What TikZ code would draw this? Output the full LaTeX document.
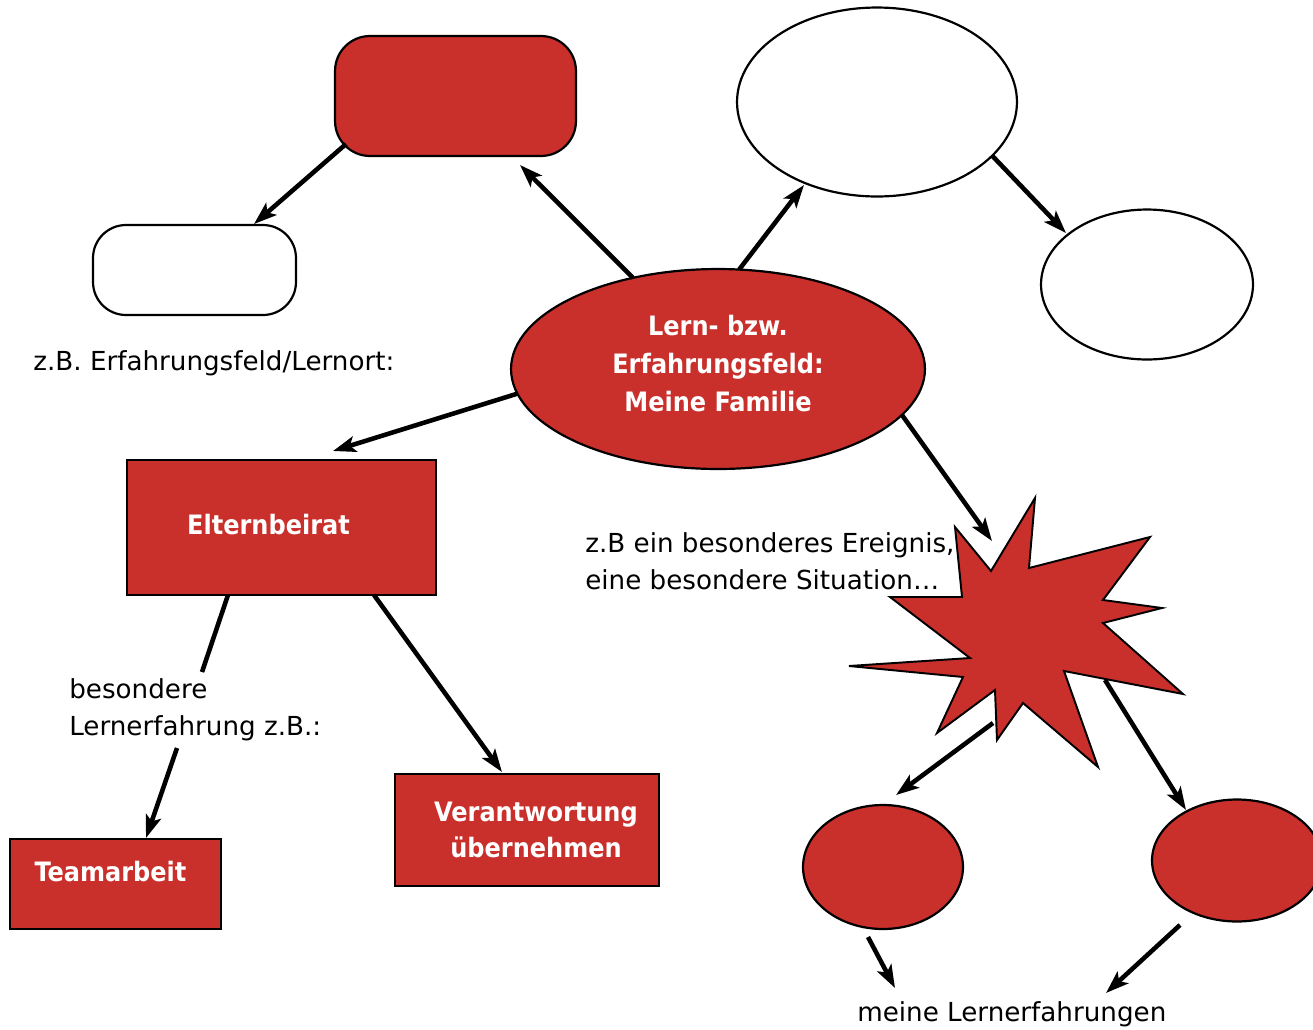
\documentclass[tikz,border=0pt]{standalone}
\usepackage{fontspec}
\setmainfont{DejaVu Sans}
\newfontfamily\cbf{DejaVu Sans Condensed Bold}
\usetikzlibrary{arrows.meta,shapes.geometric}
\definecolor{myred}{RGB}{201,48,43}
\tikzset{
  shp/.style={draw=black,line width=1.25pt,inner sep=0pt,outer sep=0pt},
  redf/.style={shp,fill=myred},
  whf/.style={shp,fill=white},
  arr/.style={line width=2.6pt,-{Stealth[length=13pt,width=9pt,inset=3pt]}},
  ln/.style={line width=2.6pt},
  txt/.style={inner sep=0pt,anchor=base west,font=\fontsize{14.9}{21}\selectfont},
  wtxt/.style={inner sep=0pt,anchor=base,text=white,font=\fontsize{15.2}{21}\cbf},
}
\begin{document}
\begin{tikzpicture}[x=0.02cm,y=-0.02cm]
\useasboundingbox[fill=white] (0,0) rectangle (1313,1029);

% shapes
\node[redf,rectangle,rounded corners=0.7cm,minimum width=4.82cm,minimum height=2.4cm] (top) at (455.5,96) {};
\node[whf,rectangle,rounded corners=0.66cm,minimum width=4.06cm,minimum height=1.8cm] (wr) at (194.5,270) {};
\node[whf,ellipse,minimum width=5.6cm,minimum height=3.78cm] (tre) at (877,102) {};
\node[whf,ellipse,minimum width=4.24cm,minimum height=3cm] (re) at (1147,284.5) {};
\node[redf,ellipse,minimum width=8.28cm,minimum height=4cm] (fam) at (718,369) {};
\node[redf,rectangle,minimum width=6.18cm,minimum height=2.7cm] (eltern) at (281.5,527.5) {};
\node[redf,rectangle,minimum width=4.22cm,minimum height=1.8cm] (team) at (115.5,884) {};
\node[redf,rectangle,minimum width=5.28cm,minimum height=2.24cm] (verant) at (527,830) {};
\node[redf,ellipse,minimum width=3.2cm,minimum height=2.48cm] (bl) at (883,867) {};
\node[redf,ellipse,minimum width=3.4cm,minimum height=2.44cm] (br) at (1237,860.5) {};

% star
\draw[redf,line width=1.1pt,line join=miter] (1035,498) -- (1029,568) -- (1150,537) -- (1103,600)
  -- (1162,608) -- (1103,623) -- (1183,694) -- (1064,671) -- (1098,767)
  -- (1023,703) -- (997,740) -- (995,690) -- (937,733) -- (963,677)
  -- (849,666) -- (970,658) -- (890,597) -- (962,597) -- (955,527)
  -- (991,571) -- cycle;
\coordinate (star) at (1020,640);

% white texts
\node[wtxt] (f1) at (718,335) {Lern- bzw.};
\node[wtxt] (f2) at (718,373) {Erfahrungsfeld:};
\node[wtxt] (f3) at (718,411) {Meine Familie};
\node[wtxt] (el) at (268.5,534) {Elternbeirat};
\node[wtxt] (tm) at (110.5,881) {Teamarbeit};
\node[wtxt] (v1) at (536,821) {Verantwortung};
\node[wtxt] (v2) at (536,857) {übernehmen};

% black texts
\node[txt] (t1) at (33,370) {z.B. Erfahrungsfeld/Lernort:};
\node[txt] (t2a) at (585,552) {z.B ein besonderes Ereignis,};
\node[txt] (t2b) at (585,589) {eine besondere Situation…};
\node[txt] (t3a) at (69,698) {besondere};
\node[txt] (t3b) at (69,735) {Lernerfahrung z.B.:};
\node[txt] (t4) at (857,1021) {meine Lernerfahrungen};

% connector end points
\coordinate (a1) at (520,165);
\coordinate (a2s) at (346,144);
\coordinate (a2) at (254,224);
\coordinate (a3) at (804,185);
\coordinate (a4) at (1066,233);
\coordinate (a5) at (333,451);
\coordinate (a6) at (992,541);
\coordinate (e1s) at (228,595);
\coordinate (e1m) at (202,672);
\coordinate (e1n) at (177,748);
\coordinate (a7) at (146,838);
\coordinate (e2s) at (374,595);
\coordinate (a8) at (502,772);
\coordinate (s1) at (993,723);
\coordinate (a9) at (896,795);
\coordinate (s2) at (1105,680);
\coordinate (a10) at (1186,810);
\coordinate (b1) at (868,937);
\coordinate (a11) at (895,988);
\coordinate (b2) at (1180,925);
\coordinate (a12) at (1106,993);

% connectors
\draw[arr] (fam.133) -- (a1);
\draw[arr] (a2s) -- (a2);
\draw[arr] (fam.78.5) -- (a3);
\draw[arr] (tre.-25.4) -- (a4);
\draw[arr] (fam.187.4) -- (a5);
\draw[arr] (fam.-14) -- (a6);
\draw[ln] (e1s) -- (e1m);
\draw[arr] (e1n) -- (a7);
\draw[arr] (e2s) -- (a8);
\draw[arr] (s1) -- (a9);
\draw[arr] (s2) -- (a10);
\draw[arr] (b1) -- (a11);
\draw[arr] (b2) -- (a12);
\end{tikzpicture}
\end{document}
